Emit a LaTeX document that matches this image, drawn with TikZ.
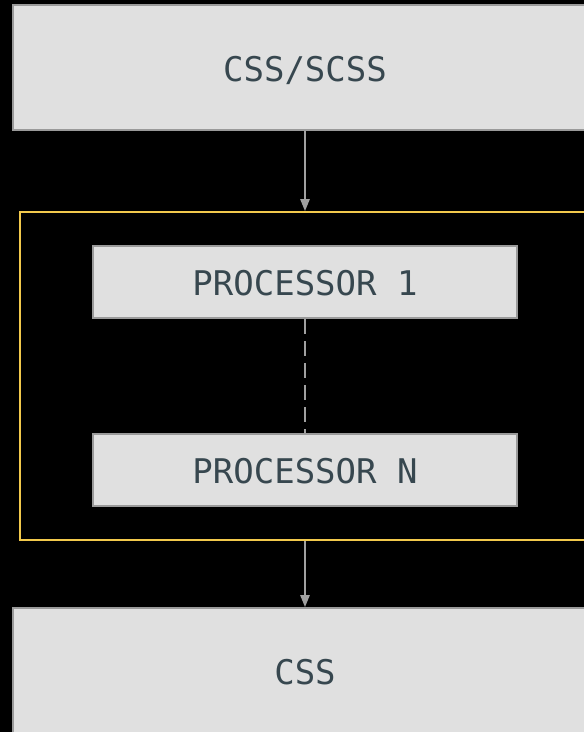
\documentclass[tikz,border=0pt]{standalone}
\usepackage{fontspec}
\setmonofont{DejaVu Sans Mono}
\usetikzlibrary{arrows.meta}
\definecolor{boxfill}{HTML}{E0E0E0}
\definecolor{boxedge}{HTML}{9A9A9A}
\definecolor{labelink}{HTML}{37474F}
\definecolor{frameyellow}{HTML}{F2C94C}
\definecolor{wire}{HTML}{A0A0A0}
\begin{document}
\begin{tikzpicture}[x=1pt,y=-1pt,
  stagebox/.style={draw=boxedge,line width=2pt,fill=boxfill,
    text=labelink,font=\ttfamily\fontsize{34}{40}\selectfont,
    text height=27.8pt,text depth=0pt},
  flow/.style={draw=wire,line width=1.3pt,-{Triangle[length=12pt,width=9.5pt]}},
  chain/.style={draw=wire,line width=1.3pt,dash pattern=on 15pt off 7pt}]
  \fill[black] (0,0) rectangle (584,732);
  \useasboundingbox (0,0) rectangle (584,732);
  \clip (0,0) rectangle (584,732);
  % outer stages
  \node[stagebox,minimum width=584pt,minimum height=125pt] (src) at (305,67.5) {CSS/SCSS};
  \node[stagebox,minimum width=584pt,minimum height=125pt] (out) at (305,670.5) {CSS};
  % processing group
  \node[draw=frameyellow,line width=2pt,minimum width=570pt,minimum height=328pt] (grp) at (305,376) {};
  \node[stagebox,minimum width=424pt,minimum height=72pt] (p1) at (305,282) {PROCESSOR 1};
  \node[stagebox,minimum width=424pt,minimum height=72pt] (pn) at (305,470) {PROCESSOR N};
  % connectors
  \draw[flow] (src.south) -- (grp.north);
  \draw[chain] (p1.south) -- (pn.north);
  \draw[flow] (grp.south) -- (out.north);
\end{tikzpicture}
\end{document}
